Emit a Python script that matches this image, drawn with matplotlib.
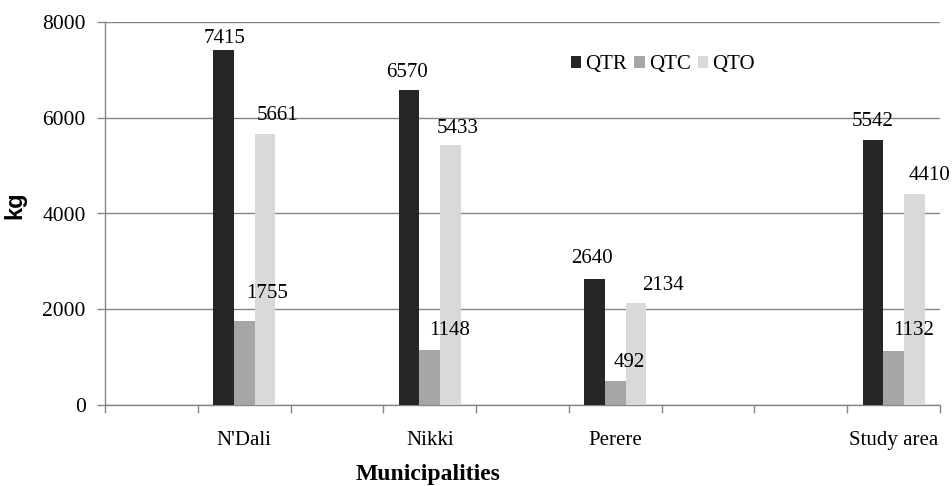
import numpy as np
import matplotlib
matplotlib.use("Agg")
import matplotlib.pyplot as plt
from matplotlib.ticker import FixedLocator

# ---- data ----
categories = ["", "N'Dali", "", "Nikki", "", "Perere", "", "", "Study area"]
qtr = [np.nan, 7415, np.nan, 6570, np.nan, 2640, np.nan, np.nan, 5542]
qtc = [np.nan, 1755, np.nan, 1148, np.nan, 492, np.nan, np.nan, 1132]
qto = [np.nan, 5661, np.nan, 5433, np.nan, 2134, np.nan, np.nan, 4410]
series_names = ["QTR", "QTC", "QTO"]
y_ticks = [0, 2000, 4000, 6000, 8000]

colors = ["#262626", "#a6a6a6", "#d9d9d9"]
# label offsets in pixels (dx, dy) per series, per non-empty category
label_offsets = {
    "QTR": [(1, 7), (-2, 13), (-3, 16), (0, 14)],
    "QTC": [(23, 23), (20, 15), (14, 14), (20, 16)],
    "QTO": [(13, 14), (7, 12), (27, 13), (15, 14)],
}

serif = ["Liberation Serif", "DejaVu Serif"]
plt.rcParams["font.family"] = serif

fig = plt.figure(figsize=(9.53, 4.86), dpi=100)
ax = fig.add_axes([105/953, 1-405/486, (940-105)/953, (405-22)/486])

n = len(categories)
x = np.arange(n) + 0.5
bw = 0.223
grid_c = "#868686"

handles = []
for k, (name, vals, col) in enumerate(zip(series_names, [qtr, qtc, qto], colors)):
    xs = x + (k - 1) * bw
    v = np.array(vals, dtype=float)
    mask = ~np.isnan(v)
    b = ax.bar(xs[mask], v[mask], width=bw, color=col, zorder=3, label=name)
    handles.append(b)
    for j, (xx, vv) in enumerate(zip(xs[mask], v[mask])):
        dx, dy = label_offsets[name][j]
        ax.annotate(f"{int(vv)}", (xx, vv), xytext=(dx, dy),
                    textcoords="offset pixels", ha="center", va="baseline",
                    fontsize=15, color="black", zorder=4)

ax.set_xlim(0, n)
ax.set_ylim(0, 8000)
ax.set_yticks(y_ticks)
ax.set_yticklabels([str(t) for t in y_ticks], fontsize=15.5)
ax.yaxis.grid(True, color=grid_c, linewidth=1, zorder=0)
ax.set_axisbelow(True)

ax.set_xticks(x)
ax.set_xticklabels(categories, fontsize=15)
ax.tick_params(axis="x", which="major", length=0, pad=19)
ax.xaxis.set_minor_locator(FixedLocator(np.arange(n + 1)))
ax.tick_params(axis="x", which="minor", length=6, color=grid_c, width=1)
ax.tick_params(axis="y", length=6, color=grid_c, width=1, pad=8)

for s in ["top", "right"]:
    ax.spines[s].set_visible(False)
for s in ["left", "bottom"]:
    ax.spines[s].set_color(grid_c)
    ax.spines[s].set_linewidth(1)

leg = ax.legend(handles=handles, labels=series_names, ncol=3, frameon=False,
                loc="center", bbox_to_anchor=((663 - 105) / 835, (486 - 65 - 81) / 383),
                fontsize=15, handlelength=0.5, handleheight=0.5,
                handletextpad=0.2, columnspacing=0.35, borderaxespad=0)

fig.text(15/953, 1-205/486, "kg", rotation=90, ha="center", va="center",
         fontsize=17, fontweight="bold", family=["Liberation Sans", "DejaVu Sans"])
fig.text(428/953, 1-474/486, "Municipalities", ha="center", va="center",
         fontsize=17, fontweight="bold")

fig.savefig("out.png", dpi=100)
